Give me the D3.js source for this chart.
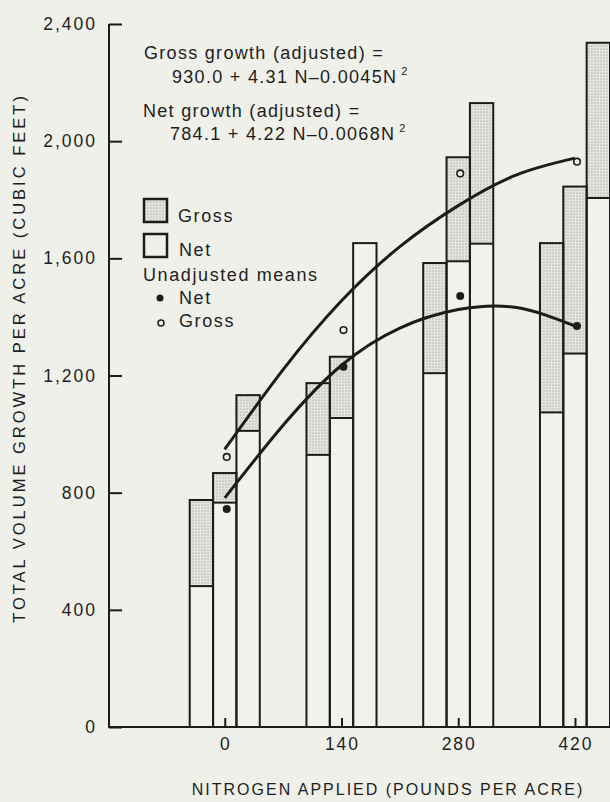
<!DOCTYPE html>
<html>
<head>
<meta charset="utf-8">
<script src="https://cdn.jsdelivr.net/npm/d3@7"></script>
<style>
  html, body { margin: 0; padding: 0; background: #eff0ea; }
  svg { display: block; }
  text { font-family: "Liberation Sans", Arial, sans-serif; fill: #1e1e1e; }
</style>
</head>
<body>
<div id="chart"></div>
<script>
// nitrogen levels (pounds per acre)
const nitrogen = [0, 140, 280, 420];

// three bars per nitrogen level, gross top and net top (cubic feet per acre)
const gross1 = [775, 1174, 1584, 1652];
const net1 = [481, 929, 1208, 1074];
const gross2 = [867, 1264, 1945, 1845];
const net2 = [766, 1055, 1590, 1275];
const gross3 = [1133, 1652, 2130, 2336];
const net3 = [1011, 1652, 1650, 1806];

// unadjusted means
const netMeans = [744, 1230, 1471, 1369];
const grossMeans = [922, 1355, 1890, 1930];

// fitted curves
const curveN = [0, 70, 140, 210, 280, 350, 420];
const grossCurve = [948, 1220, 1455, 1640, 1780, 1885, 1942];
const netCurve = [782, 1030, 1235, 1362, 1425, 1432, 1369];

const yTicks = [0, 400, 800, 1200, 1600, 2000, 2400];

const width = 610, height = 802;
const ink = '#1c1c1c';

const svg = d3.select('#chart').append('svg')
    .attr('width', width)
    .attr('height', height);

// stipple pattern for the gross part
const defs = svg.append('defs');
const pat = defs.append('pattern')
    .attr('id', 'stip')
    .attr('width', 3).attr('height', 3)
    .attr('patternUnits', 'userSpaceOnUse');
pat.append('rect').attr('width', 3).attr('height', 3).attr('fill', '#e4e4de');
pat.append('circle').attr('cx', 1).attr('cy', 1).attr('r', 0.6).attr('fill', '#8a8a86');

const x = d3.scaleLinear().domain([-140, 462]).range([108, 610]);
const y = d3.scaleLinear().domain([0, 2400]).range([727, 24]);

// bars
const barW = 28;
const series = [
    { gross: gross1, net: net1, off: -42 },
    { gross: gross2, net: net2, off: -14 },
    { gross: gross3, net: net3, off: 14 }
];
const bars = [];
series.forEach(s => {
    nitrogen.forEach((n, i) => {
        bars.push({ x0: n + s.off, gross: s.gross[i], net: s.net[i] });
    });
});

const bg = svg.append('g');
bg.selectAll('.gross')
    .data(bars)
    .enter()
    .append('rect')
    .attr('class', 'gross')
    .attr('x', d => x(d.x0))
    .attr('y', d => y(d.gross))
    .attr('width', d => x(d.x0 + barW) - x(d.x0))
    .attr('height', d => y(d.net) - y(d.gross))
    .attr('fill', 'url(#stip)');

bg.selectAll('.net')
    .data(bars)
    .enter()
    .append('rect')
    .attr('class', 'net')
    .attr('x', d => x(d.x0))
    .attr('y', d => y(d.net))
    .attr('width', d => x(d.x0 + barW) - x(d.x0))
    .attr('height', d => y(0) - y(d.net))
    .attr('fill', '#f1f2ec');

bg.selectAll('.outline')
    .data(bars)
    .enter()
    .append('rect')
    .attr('class', 'outline')
    .attr('x', d => x(d.x0))
    .attr('y', d => y(d.gross))
    .attr('width', d => x(d.x0 + barW) - x(d.x0))
    .attr('height', d => y(0) - y(d.gross))
    .attr('fill', 'none')
    .attr('stroke', ink)
    .attr('stroke-width', 2);

bg.selectAll('.netline')
    .data(bars.filter(d => d.gross > d.net))
    .enter()
    .append('line')
    .attr('x1', d => x(d.x0))
    .attr('x2', d => x(d.x0 + barW))
    .attr('y1', d => y(d.net))
    .attr('y2', d => y(d.net))
    .attr('stroke', ink)
    .attr('stroke-width', 2);

// axes
const yAxis = svg.append('g')
    .attr('transform', `translate(${x(-140) + 1},0)`)
    .call(d3.axisRight(y).tickValues(yTicks).tickSize(13).tickFormat(''));
yAxis.select('.domain').remove();
yAxis.selectAll('line').attr('stroke', ink).attr('stroke-width', 2);

svg.append('line')
    .attr('x1', x(-140) + 1).attr('x2', x(-140) + 1)
    .attr('y1', y(2400)).attr('y2', y(0))
    .attr('stroke', ink).attr('stroke-width', 2);
svg.append('line')
    .attr('x1', x(-140)).attr('x2', x(462))
    .attr('y1', y(0)).attr('y2', y(0))
    .attr('stroke', ink).attr('stroke-width', 2);

svg.selectAll('.ylab')
    .data(yTicks)
    .enter()
    .append('text')
    .attr('x', 97)
    .attr('y', d => y(d) + 6)
    .attr('text-anchor', 'end')
    .attr('font-size', 17.5)
    .attr('letter-spacing', 2)
    .text(d3.format(','));

const xAxis = svg.append('g')
    .attr('transform', `translate(0,${y(0)})`)
    .call(d3.axisTop(x).tickValues(nitrogen).tickSize(9).tickFormat(''));
xAxis.select('.domain').remove();
xAxis.selectAll('line').attr('stroke', ink).attr('stroke-width', 2);

svg.selectAll('.xlab')
    .data(nitrogen)
    .enter()
    .append('text')
    .attr('x', d => x(d) + 1)
    .attr('y', 750)
    .attr('text-anchor', 'middle')
    .attr('font-size', 17.5)
    .attr('letter-spacing', 2)
    .text(d => d);

svg.append('text')
    .attr('x', 388)
    .attr('y', 795)
    .attr('text-anchor', 'middle')
    .attr('font-size', 16)
    .attr('letter-spacing', 2)
    .text('NITROGEN APPLIED (POUNDS PER ACRE)');

svg.append('text')
    .attr('transform', 'translate(25,358) rotate(-90)')
    .attr('text-anchor', 'middle')
    .attr('font-size', 16.5)
    .attr('letter-spacing', 3)
    .text('TOTAL VOLUME GROWTH PER ACRE (CUBIC FEET)');

// curves
const line = d3.line()
    .x(d => x(d[0]))
    .y(d => y(d[1]))
    .curve(d3.curveNatural);

svg.append('path')
    .datum(curveN.map((n, i) => [n, grossCurve[i]]))
    .attr('d', line)
    .attr('fill', 'none')
    .attr('stroke', ink)
    .attr('stroke-width', 3);

svg.append('path')
    .datum(curveN.map((n, i) => [n, netCurve[i]]))
    .attr('d', line)
    .attr('fill', 'none')
    .attr('stroke', ink)
    .attr('stroke-width', 3);

// unadjusted means
svg.selectAll('.netpt')
    .data(nitrogen)
    .enter()
    .append('circle')
    .attr('cx', d => x(d) + 2)
    .attr('cy', (d, i) => y(netMeans[i]))
    .attr('r', 4)
    .attr('fill', ink);

svg.selectAll('.grosspt')
    .data(nitrogen)
    .enter()
    .append('circle')
    .attr('cx', d => x(d) + 2)
    .attr('cy', (d, i) => y(grossMeans[i]))
    .attr('r', 3.3)
    .attr('fill', '#f1f2ec')
    .attr('stroke', ink)
    .attr('stroke-width', 1.6);

// equations
const eq = svg.append('g').attr('font-size', 18).attr('letter-spacing', 1.3);
eq.append('text').attr('x', 144).attr('y', 59).text('Gross growth (adjusted) =');
const e2 = eq.append('text').attr('x', 172).attr('y', 83);
e2.append('tspan').text('930.0 + 4.31 N\u20130.0045N');
e2.append('tspan').attr('dy', -8).attr('dx', 4).attr('font-size', 11).text('2');
eq.append('text').attr('x', 143).attr('y', 117).text('Net growth (adjusted) =');
const e4 = eq.append('text').attr('x', 170).attr('y', 140);
e4.append('tspan').text('784.1 + 4.22 N\u20130.0068N');
e4.append('tspan').attr('dy', -8).attr('dx', 4).attr('font-size', 11).text('2');

// legend
const lg = svg.append('g').attr('font-size', 18).attr('letter-spacing', 1.6);
lg.append('rect').attr('x', 144).attr('y', 199).attr('width', 23).attr('height', 23)
    .attr('fill', 'url(#stip)').attr('stroke', ink).attr('stroke-width', 2.5);
lg.append('text').attr('x', 178).attr('y', 222).text('Gross');
lg.append('rect').attr('x', 144).attr('y', 234).attr('width', 23).attr('height', 23)
    .attr('fill', 'none').attr('stroke', ink).attr('stroke-width', 2.5);
lg.append('text').attr('x', 179).attr('y', 256).text('Net');
lg.append('text').attr('x', 143).attr('y', 281).text('Unadjusted means');
lg.append('circle').attr('cx', 160).attr('cy', 298).attr('r', 3.5).attr('fill', ink);
lg.append('text').attr('x', 179).attr('y', 304).text('Net');
lg.append('circle').attr('cx', 161).attr('cy', 323).attr('r', 3).attr('fill', 'none')
    .attr('stroke', ink).attr('stroke-width', 1.5);
lg.append('text').attr('x', 179).attr('y', 327).text('Gross');
</script>
</body>
</html>
